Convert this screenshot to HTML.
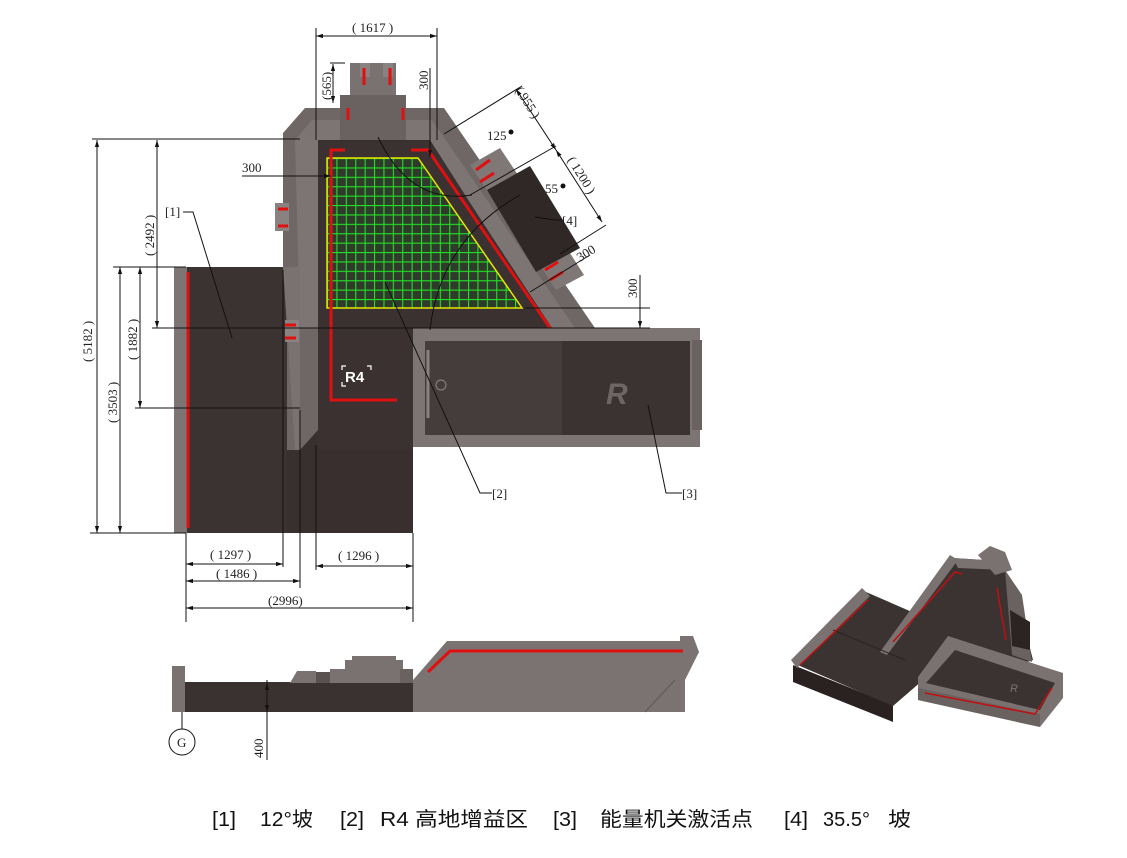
<!DOCTYPE html>
<html><head><meta charset="utf-8"><style>
html,body{margin:0;padding:0;background:#fff;}
svg{display:block;}
.d{font-family:"Liberation Serif",serif;font-size:13px;fill:#222;}
.cap{font-family:"Liberation Sans","Noto Sans CJK SC",sans-serif;font-size:20px;fill:#111;}
</style></head><body>
<svg width="1127" height="858" viewBox="0 0 1127 858" xmlns="http://www.w3.org/2000/svg">
<defs>
<marker id="a" viewBox="0 0 10 10" refX="10" refY="5" markerWidth="7" markerHeight="7" orient="auto-start-reverse"><path d="M0,2 L10,5 L0,8z" fill="#111"/></marker>
<pattern id="g" width="9.4" height="9.4" patternUnits="userSpaceOnUse" x="327" y="158"><rect width="9.4" height="9.4" fill="#2f3a2c"/><path d="M0,0.5H9.4M0.5,0V9.4" stroke="#22e022" stroke-width="1.2"/></pattern>
</defs>

<polygon points="283,133 305,108 444,108 595,328 542,328 300,450 283,450" fill="#6f6766"/>
<polygon points="295,140 312,120 432,120 575,328 300,328" fill="#7d7574"/>
<rect x="350" y="63" width="46" height="50" fill="#7a7270"/>
<rect x="360" y="63" width="10" height="14" fill="#8a8281"/><rect x="383" y="63" width="10" height="14" fill="#8a8281"/>
<rect x="340" y="95" width="66" height="45" fill="#6a6261"/>
<polygon points="470,165 500,148 518,175 488,192" fill="#807877"/>
<polygon points="540,265 568,250 584,275 556,290" fill="#807877"/>
<polygon points="487,190 530,166 580,248 536,272" fill="#2f2827"/>
<rect x="275" y="203" width="14" height="28" fill="#8a8281"/>
<rect x="174" y="267" width="14" height="266" fill="#7d7574"/>
<rect x="187" y="267" width="100" height="266" fill="#3b3332"/>
<polygon points="283,267 300,267 300,450 295,450 283,267" fill="#7a7270"/>
<polygon points="318,140 430,140 550,328 413,328 413,533 287,533 287,450 300,450 318,430" fill="#382f2e"/>
<polygon points="318,142 430,142 552,328 413,328 413,450 318,450" fill="#3a3130"/>
<rect x="285" y="320" width="14" height="22" fill="#8a8281"/>
<polygon points="327,158 418,158 522,308 327,308" fill="url(#g)" stroke="#e6e600" stroke-width="1.5"/>
<g stroke="#e01010" stroke-width="3" fill="none">
<line x1="188" y1="272" x2="188" y2="528"/>
<polyline points="345,150 331,150 331,400 397,400"/>
<polyline points="411,150 428,150 550,328"/>
<polyline points="630,352 668,352 668,410"/>
<line x1="364" y1="68" x2="364" y2="85"/><line x1="390" y1="68" x2="390" y2="85"/>
<line x1="348" y1="108" x2="348" y2="120"/><line x1="403" y1="108" x2="403" y2="120"/>
<line x1="278" y1="209" x2="288" y2="209"/><line x1="278" y1="226" x2="288" y2="226"/>
<line x1="285" y1="325" x2="296" y2="325"/><line x1="285" y1="338" x2="296" y2="338"/>
<line x1="476" y1="170" x2="490" y2="160"/><line x1="480" y1="182" x2="494" y2="173"/>
<line x1="545" y1="270" x2="558" y2="262"/><line x1="550" y1="280" x2="563" y2="272"/>
</g>
<rect x="413" y="328" width="287" height="119" fill="#7d7574"/>
<rect x="692" y="340" width="10" height="90" fill="#6a6261"/>
<rect x="425" y="341" width="265" height="94" fill="#453d3c"/>
<rect x="562" y="341" width="128" height="94" fill="#3a3332"/>
<line x1="428" y1="350" x2="428" y2="418" stroke="#8a8281" stroke-width="3"/>
<circle cx="441" cy="385" r="5" fill="none" stroke="#888" stroke-width="1"/>
<text x="345" y="382" font-family="Liberation Sans,sans-serif" font-size="15" font-weight="bold" fill="#fff">R4</text>
<path d="M342,370v-4h4M367,366h4v4M342,382v4h4" stroke="#fff" fill="none" stroke-width="1.2"/>
<text x="606" y="404" font-family="Liberation Sans,sans-serif" font-size="30" font-style="italic" font-weight="bold" fill="#6d6665">R</text>

<g stroke="#111" stroke-width="1" fill="none">
<line x1="92" y1="139" x2="300" y2="139"/>
<line x1="90" y1="533" x2="186" y2="533"/>
<line x1="113" y1="267" x2="186" y2="267"/>
<line x1="135" y1="408" x2="300" y2="408"/>
<line x1="152" y1="328" x2="650" y2="328"/>
<line x1="525" y1="308" x2="650" y2="308"/>
<line x1="97" y1="140" x2="97" y2="533" marker-start="url(#a)" marker-end="url(#a)"/>
<line x1="120" y1="267" x2="120" y2="533" marker-start="url(#a)" marker-end="url(#a)"/>
<line x1="140" y1="267" x2="140" y2="408" marker-start="url(#a)" marker-end="url(#a)"/>
<line x1="157" y1="140" x2="157" y2="328" marker-start="url(#a)" marker-end="url(#a)"/>
<line x1="242" y1="176" x2="331" y2="176" marker-end="url(#a)"/>
<line x1="430" y1="68" x2="430" y2="157" marker-end="url(#a)"/>
<line x1="316" y1="28" x2="316" y2="140"/><line x1="437" y1="28" x2="437" y2="140"/>
<line x1="316" y1="36" x2="437" y2="36" marker-start="url(#a)" marker-end="url(#a)"/>
<line x1="330" y1="63" x2="345" y2="63"/>
<line x1="333" y1="64" x2="333" y2="103" marker-start="url(#a)" marker-end="url(#a)"/>
<line x1="640" y1="275" x2="640" y2="328" marker-end="url(#a)"/>
<line x1="444" y1="134" x2="522" y2="86"/>
<line x1="470" y1="195" x2="556" y2="146"/>
<line x1="560" y1="254" x2="606" y2="225"/>
<line x1="516" y1="89" x2="556" y2="150" marker-start="url(#a)" marker-end="url(#a)"/>
<line x1="556" y1="150" x2="602" y2="222" marker-start="url(#a)" marker-end="url(#a)"/>
<line x1="530" y1="292" x2="590" y2="255"/>
<path d="M378,137 Q410,205 472,195"/>
<path d="M430,330 Q440,240 520,195"/>
<line x1="186" y1="533" x2="186" y2="622"/>
<line x1="413" y1="533" x2="413" y2="622"/>
<line x1="283" y1="270" x2="283" y2="567"/>
<line x1="300" y1="410" x2="300" y2="588"/>
<line x1="316" y1="445" x2="316" y2="570"/>
<line x1="186" y1="564" x2="283" y2="564" marker-start="url(#a)" marker-end="url(#a)"/>
<line x1="186" y1="581" x2="300" y2="581" marker-start="url(#a)" marker-end="url(#a)"/>
<line x1="186" y1="608" x2="413" y2="608" marker-start="url(#a)" marker-end="url(#a)"/>
<line x1="316" y1="566" x2="413" y2="566" marker-start="url(#a)" marker-end="url(#a)"/>
<polyline points="183,212 193,212 232,338"/>
<polyline points="492,493 480,493 385,282"/>
<polyline points="682,493 666,493 648,405"/>
<polyline points="562,220 555,220 535,217"/>
</g>
<g class="d">
<text x="352" y="32">( 1617 )</text>
<text x="242" y="172">300</text>
<text x="165" y="216">[1]</text>
<text x="562" y="225">[4]</text>
<text x="492" y="498">[2]</text>
<text x="682" y="498">[3]</text>
<text x="487" y="140">125</text><circle cx="511" cy="132" r="2.5" fill="#111"/>
<text x="545" y="193">55</text><circle cx="563" cy="186" r="2.5" fill="#111"/>
<text x="210" y="559">( 1297 )</text>
<text x="216" y="578">( 1486 )</text>
<text x="268" y="605">(2996)</text>
<text x="338" y="560">( 1296 )</text>
<text transform="translate(92,362) rotate(-90)">( 5182 )</text>
<text transform="translate(117,423) rotate(-90)">( 3503 )</text>
<text transform="translate(137,360) rotate(-90)">( 1882 )</text>
<text transform="translate(154,256) rotate(-90)">( 2492 )</text>
<text transform="translate(331,100) rotate(-90)">(565)</text>
<text transform="translate(428,90) rotate(-90)">300</text>
<text transform="translate(637,298) rotate(-90)">300</text>
<text transform="translate(515,90) rotate(58)">( 955 )</text>
<text transform="translate(567,160) rotate(58)">( 1200 )</text>
<text transform="translate(580,262) rotate(-32)">300</text>
</g>

<rect x="172" y="666" width="13" height="46" fill="#7a7270"/>
<rect x="185" y="682" width="228" height="30" fill="#3a3231"/>
<polygon points="290,683 297,671 316,671 316,683" fill="#7a7270"/>
<rect x="316" y="672" width="30" height="11" fill="#5a5251"/>
<rect x="330" y="669" width="25" height="14" fill="#7a7270"/>
<rect x="345" y="660" width="58" height="23" fill="#7a7270"/>
<rect x="352" y="656" width="44" height="6" fill="#7a7270"/>
<rect x="400" y="669" width="13" height="14" fill="#6a6261"/>
<polygon points="413,712 413,680 447,641 680,641 680,636 693,636 699,652 685,680 685,712" fill="#7b7372"/>
<line x1="675" y1="680" x2="645" y2="712" stroke="#605857"/>
<polyline points="428,672 450,651 683,651" stroke="#e01010" stroke-width="3" fill="none"/>
<line x1="182" y1="712" x2="182" y2="729" stroke="#111"/>
<circle cx="182" cy="742" r="13" fill="#fff" stroke="#111"/>
<text x="177" y="747" class="d">G</text>
<line x1="267" y1="680" x2="267" y2="760" stroke="#111"/>
<line x1="267" y1="683" x2="267" y2="712" stroke="#111" marker-start="url(#a)" marker-end="url(#a)"/>
<text transform="translate(263,758) rotate(-90)" class="d">400</text>

<g>
<polygon points="793,665 893,705 893,722 793,682" fill="#2a2221"/>
<polygon points="793,663 866,592 912,612 905,650 923,680 893,706" fill="#3b3332"/>
<polygon points="791,660 862,588 870,596 797,668" fill="#7a7270"/>
<polygon points="880,650 953,558 1000,561 1015,590 1033,660 1010,668 960,648 920,678" fill="#3b3332"/>
<polygon points="880,652 950,555 958,560 887,655" fill="#7a7270"/>
<polygon points="953,558 1000,561 1005,570 958,568" fill="#7a7270"/>
<polygon points="978,555 990,546 1005,552 1012,570 995,575" fill="#7a7270"/>
<polygon points="1005,570 1022,595 1032,662 1012,655" fill="#6a6261"/>
<polygon points="1010,610 1030,622 1030,650 1012,646" fill="#2c2423"/>
<polygon points="918,677 948,636 1063,673 1063,698 1040,727 918,700" fill="#7a7270"/>
<polygon points="926,683 955,650 1055,683 1040,710" fill="#3b3332"/>
<polygon points="918,700 918,688 1040,714 1040,727" fill="#6a6261"/>
<line x1="833" y1="630" x2="905" y2="660" stroke="#2a2221"/>
<g stroke="#c01010" stroke-width="1.5" fill="none">
<polyline points="800,665 868,600"/>
<polyline points="893,642 955,572 962,574"/>
<polyline points="997,588 1006,640"/>
<polyline points="925,693 1035,714 1052,688"/>
</g>
<text x="1010" y="692" font-family="Liberation Sans,sans-serif" font-size="11" font-style="italic" fill="#777">R</text>
</g>

<g class="cap">
<text x="212" y="826" textLength="24" lengthAdjust="spacingAndGlyphs">[1]</text>
<text x="260" y="826" textLength="53" lengthAdjust="spacingAndGlyphs">12°坡</text>
<text x="340" y="826" textLength="24" lengthAdjust="spacingAndGlyphs">[2]</text>
<text x="380" y="826" textLength="148" lengthAdjust="spacingAndGlyphs">R4 高地增益区</text>
<text x="553" y="826" textLength="24" lengthAdjust="spacingAndGlyphs">[3]</text>
<text x="600" y="826" textLength="153" lengthAdjust="spacingAndGlyphs">能量机关激活点</text>
<text x="784" y="826" textLength="24" lengthAdjust="spacingAndGlyphs">[4]</text>
<text x="823" y="826" textLength="47" lengthAdjust="spacingAndGlyphs">35.5°</text>
<text x="888" y="826" textLength="23" lengthAdjust="spacingAndGlyphs">坡</text>
</g>
</svg>
</body></html>
